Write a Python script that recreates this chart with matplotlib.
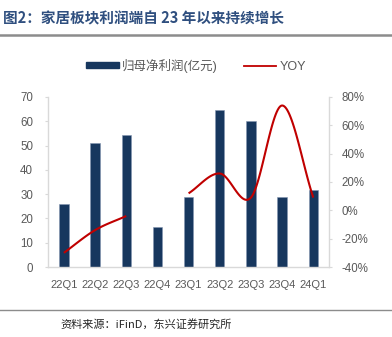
import numpy as np
import matplotlib
matplotlib.use("Agg")
import matplotlib.pyplot as plt
from matplotlib.lines import Line2D
from matplotlib.patches import Patch

plt.rcParams['font.family'] = ['Liberation Sans', 'Noto Sans CJK SC', 'DejaVu Sans']

categories = ['22Q1', '22Q2', '22Q3', '22Q4', '23Q1', '23Q2', '23Q3', '23Q4', '24Q1']
profit = [26, 51, 54.5, 16.5, 29, 64.5, 60, 29, 31.5]
yoy = [-30, -14, -4, np.nan, 12, 26, 9, 74, 9]

bar_color = '#17375E'
line_color = '#C00000'
grey = '#595959'
spine_c = '#D9D9D9'

fig = plt.figure(figsize=(3.92, 3.37), dpi=100)
ax = fig.add_axes([0.1232, 0.2077, 0.7158, 0.5045])
x = np.arange(len(categories))
ax.bar(x, profit, width=0.3, color=bar_color, edgecolor='#8496B0', linewidth=0.4, zorder=2)
ax.set_xlim(-0.5, len(categories) - 0.5)
ax.set_ylim(0, 70)
ax.set_yticks(range(0, 71, 10))
ax.set_xticks(x)
ax.set_xticklabels(categories)
ax.tick_params(axis='x', length=0, pad=9, labelsize=8, colors=grey)
ax.tick_params(axis='y', length=2, width=0.8, color=spine_c, pad=9, labelsize=8.3, labelcolor=grey)
for s in ['top', 'right']:
    ax.spines[s].set_visible(False)
for s in ['left', 'bottom']:
    ax.spines[s].set_color(spine_c)
    ax.spines[s].set_linewidth(1)

ax2 = ax.twinx()
ax2.set_ylim(-40, 80)
ax2.set_yticks(range(-40, 81, 20))
ax2.set_yticklabels([f'{v}%' for v in range(-40, 81, 20)])
ax2.tick_params(axis='y', length=2, width=0.8, color=spine_c, pad=7, labelsize=8.3, labelcolor=grey)
for s in ['top', 'left', 'bottom']:
    ax2.spines[s].set_visible(False)
ax2.spines['right'].set_color(spine_c)
ax2.spines['right'].set_linewidth(1)

# smooth line (Catmull-Rom through each contiguous segment)
def catmull(px, py, n=30):
    px = np.asarray(px, float); py = np.asarray(py, float)
    if len(px) < 2:
        return px, py
    P = np.column_stack([px, py])
    P = np.vstack([2 * P[0] - P[1], P, 2 * P[-1] - P[-2]])
    out = []
    t = np.linspace(0, 1, n)[:, None]
    for i in range(1, len(P) - 2):
        p0, p1, p2, p3 = P[i - 1], P[i], P[i + 1], P[i + 2]
        b0 = p1
        b1 = p1 + (p2 - p0) / 6
        b2 = p2 - (p3 - p1) / 6
        b3 = p2
        seg = ((1 - t) ** 3) * b0 + 3 * ((1 - t) ** 2) * t * b1 + 3 * (1 - t) * t ** 2 * b2 + t ** 3 * b3
        out.append(seg if i == 1 else seg[1:])
    out = np.vstack(out)
    return out[:, 0], out[:, 1]

yv = np.array(yoy, float)
valid = ~np.isnan(yv)
start = None
for i in range(len(yv) + 1):
    if i < len(yv) and valid[i]:
        if start is None:
            start = i
    else:
        if start is not None:
            sx, sy = catmull(x[start:i], yv[start:i])
            ax2.plot(sx, sy, color=line_color, lw=1.5, zorder=3, solid_capstyle='butt')
            start = None

handles = [Patch(facecolor=bar_color, edgecolor=bar_color),
           Line2D([0], [0], color=line_color, lw=1.3)]
fig.legend(handles, ['归母净利润(亿元)', 'YOY'], loc='center', bbox_to_anchor=(0.50, 0.805),
           ncol=2, frameon=False, fontsize=9, handlelength=2.6, handleheight=0.4,
           columnspacing=2.1, handletextpad=0.25, labelcolor=grey, borderpad=0.2)

fig.text(0.008, 0.945, '图2：家居板块利润端自 23 年以来持续增长', fontsize=10.5, fontweight='bold',
         color='#2F4F7F', ha='left', va='center',
         family=['Noto Sans CJK SC', 'DejaVu Sans'])
fig.add_artist(Line2D([0, 1], [0.896, 0.896], color='#8C8C8C', lw=1.8, transform=fig.transFigure))
fig.add_artist(Line2D([0, 1], [0.079, 0.079], color='#8C8C8C', lw=1.0, transform=fig.transFigure))
fig.text(0.155, 0.038, '资料来源：iFinD，东兴证券研究所', fontsize=8, style='italic',
         color='#262626', ha='left', va='center',
         family=['Noto Sans CJK SC', 'DejaVu Sans'])

fig.savefig('out.png', dpi=100)
